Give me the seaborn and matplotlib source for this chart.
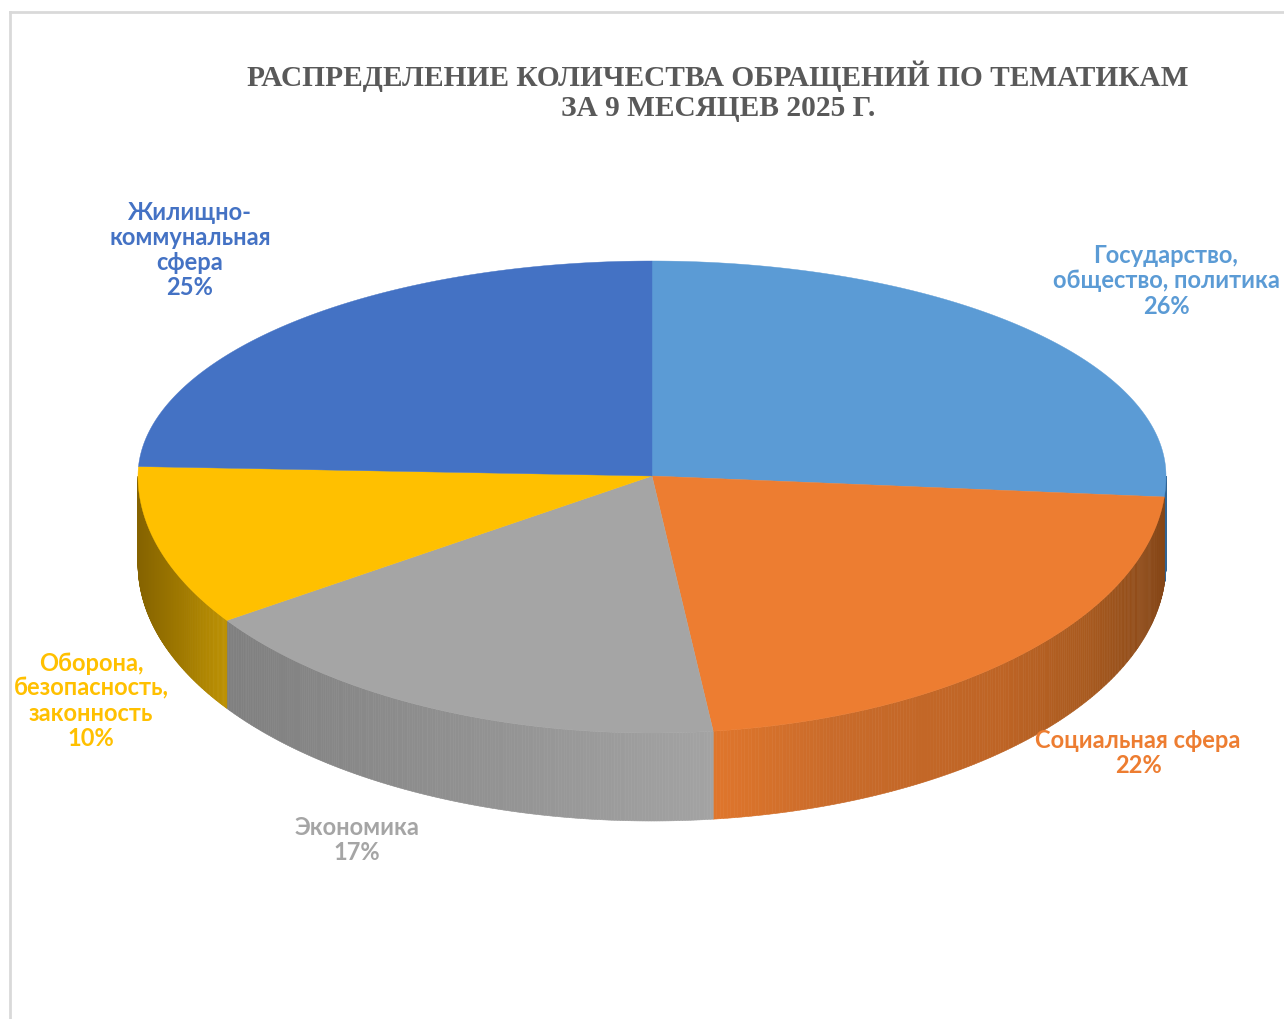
import numpy as np
import seaborn as sns
import matplotlib.pyplot as plt
from matplotlib.colors import to_rgb

W, H = 1284, 1019

categories = ["Государство,\nобщество, политика", "Социальная сфера", "Экономика",
              "Оборона,\nбезопасность,\nзаконность", "Жилищно-\nкоммунальная\nсфера"]
percent_labels = ["26%", "22%", "17%", "10%", "25%"]
# slice sizes as drawn in the picture (the printed percents are rounded)
shares = [26.3, 21.8, 17.4, 10.2, 24.3]
colors = ["#5B9BD5", "#ED7D31", "#A5A5A5", "#FFC000", "#4472C4"]
title = "РАСПРЕДЕЛЕНИЕ КОЛИЧЕСТВА ОБРАЩЕНИЙ ПО ТЕМАТИКАМ\nЗА 9 МЕСЯЦЕВ 2025 Г."

# pie geometry in pixels of the picture
cx, cy = 652, 476
rx, ry_top, ry_bot = 514, 215, 257
depth = 88 / ry_top
low = ry_bot / ry_top

# shading of the side wall, left to right
wall_x = [-1.0, -0.83, 0.117, 0.35, 0.68, 0.85, 1.0]
wall_rgb = np.array([to_rgb(c) for c in
                     ["#856300", "#BC9000", "#A3A3A3", "#C96B2A", "#BE6425", "#A85A1F", "#844516"]])

sns.set_theme(style="white")
palette = sns.color_palette(colors)

fig = plt.figure(figsize=(W / 100, H / 100), dpi=100, facecolor="white")
left, top = 9.5, 12
ax = fig.add_axes([left / W, 0, 1 - left / W, 1 - top / H])
ax.set_xlim((left - cx) / rx, (W - cx) / rx)
ax.set_ylim((cy - H) / ry_top, (cy - top) / ry_top)
ax.set_xticks([])
ax.set_yticks([])
for side in ["right", "bottom"]:
    ax.spines[side].set_visible(False)
for side in ["left", "top"]:
    ax.spines[side].set_color("#D9D9D9")
    ax.spines[side].set_linewidth(2)


def rim(theta):
    # angle clockwise from the top; the near half is stretched by perspective
    c = np.cos(theta)
    return np.sin(theta), np.where(c > 0, c, low * c)


def wall_color(x, i):
    if i == 0:
        return "#2F6496"
    if i == 4:
        return "#2F5597"
    if i == 3:
        return np.clip([np.interp(x, [-1.0, -0.83], wall_rgb[:2, k]) for k in range(3)], 0, 1)
    if i == 2:
        return [np.interp(x, [-0.83, 0.117], [to_rgb("#7F7F7F")[k], wall_rgb[2, k]]) for k in range(3)]
    return [np.interp(x, [0.117, 0.35, 0.68, 0.85, 1.0],
                      [to_rgb("#E0762C")[k], wall_rgb[3, k], wall_rgb[4, k], wall_rgb[5, k], wall_rgb[6, k]])
            for k in range(3)]


edges = np.radians(np.concatenate([[0], np.cumsum(shares)]) * 3.6)

# side walls: only the near half of the rim shows
for i in range(len(shares)):
    a = max(edges[i], np.pi / 2)
    b = min(edges[i + 1], 3 * np.pi / 2 + 0.0)
    if i == 3:
        b = 3 * np.pi / 2
    if b <= a:
        continue
    ts = np.linspace(a, b, 200)
    for t0, t1 in zip(ts[:-1], ts[1:]):
        x0, y0 = rim(t0)
        x1, y1 = rim(t1)
        col = wall_color((x0 + x1) / 2, i)
        ax.fill([x0, x1, x1, x0], [y0, y1, y1 - depth, y0 - depth],
                color=col, lw=0.4, zorder=2)

# top faces
for i in range(len(shares)):
    ts = np.linspace(edges[i], edges[i + 1], 300)
    xs, ys = rim(ts)
    ax.fill(np.r_[0, xs], np.r_[0, ys], color=palette[i], lw=0.3, zorder=3)

fig.text(718 / W, 1 - 91 / H, title, ha="center", va="center", family="Liberation Serif",
         fontweight="bold", fontsize=21.2, color="#595959", linespacing=1.13)

label_pos = [(1166, 281), (1138, 753), (357, 840), (91, 701), (190, 250)]
for i, (px, py) in enumerate(label_pos):
    fig.text(px / W, 1 - py / H, categories[i] + "\n" + percent_labels[i], ha="center", va="center",
             family=["Lato", "Noto Sans"], fontweight="bold", fontsize=17, color=palette[i], linespacing=1.12)

fig.savefig("out.png", dpi=100, facecolor="white")
